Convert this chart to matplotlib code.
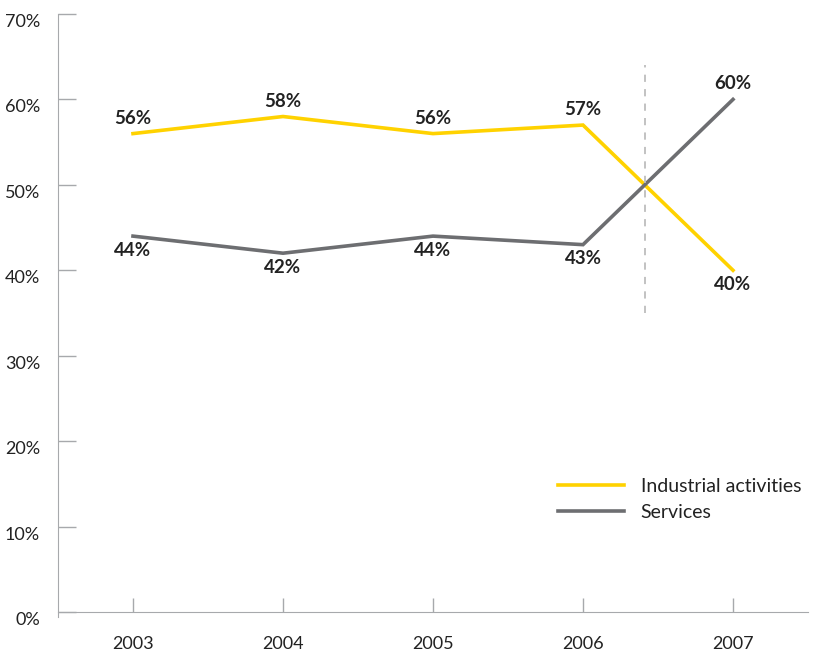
import matplotlib
matplotlib.use("Agg")
import matplotlib.pyplot as plt
from matplotlib.ticker import FuncFormatter

years = ["2003", "2004", "2005", "2006", "2007"]
industrial = [56, 58, 56, 57, 40]
services = [44, 42, 44, 43, 60]
y_ticks = [0, 10, 20, 30, 40, 50, 60, 70]
cross_span = [35, 64]

plt.rcParams['font.family'] = ['Lato', 'DejaVu Sans']

YELLOW = "#FFD200"
GREY = "#6D6E71"
AXIS = "#A7A9AC"
TEXT = "#222222"

fig = plt.figure(figsize=(8.21, 6.5), dpi=100)
ax = fig.add_axes([58/821, 38/650, 750/821, 598/650])

x = list(range(len(years)))
ax.plot(x, industrial, color=YELLOW, lw=2.6, label="Industrial activities", solid_joinstyle='miter')
ax.plot(x, services, color=GREY, lw=2.6, label="Services", solid_joinstyle='miter')

# crossing point between 2006 and 2007
i0, i1 = industrial[3], industrial[4]
s0, s1 = services[3], services[4]
t = (s0 - i0) / ((i1 - i0) - (s1 - s0))
ax.vlines(3 + t, cross_span[0], cross_span[1], colors="#BDBDBD", linestyles=(0, (4, 4)), lw=1.3)

LBL = 13.5
for xi, (a, b) in enumerate(zip(industrial, services)):
    hi, lo = (a, b) if a > b else (b, a)
    ax.annotate(f"{hi}%", (xi, hi), xytext=(0, 5), textcoords="offset points", ha="center", va="bottom",
                fontsize=LBL, fontweight="bold", color=TEXT)
    ax.annotate(f"{lo}%", (xi, lo), xytext=(0, -4), textcoords="offset points", ha="center", va="top",
                fontsize=LBL, fontweight="bold", color=TEXT)

ax.set_xlim(-0.5, 4.5)
ax.set_ylim(0, 70)
ax.set_xticks(x)
ax.set_xticklabels(years)
ax.set_yticks(y_ticks)
ax.yaxis.set_major_formatter(FuncFormatter(lambda v, p: f"{int(v)}%"))

for s in ["top", "right"]:
    ax.spines[s].set_visible(False)
ax.spines["left"].set_color(AXIS)
ax.spines["bottom"].set_color(AXIS)
ax.spines["left"].set_bounds(-0.6, 70)

ax.tick_params(axis="y", direction="in", length=13, color=AXIS, width=1, labelsize=13,
               labelcolor=TEXT, pad=13)
ax.tick_params(axis="x", direction="in", length=10, color=AXIS, width=1, labelsize=13,
               labelcolor=TEXT, pad=17)
for lab in ax.get_yticklabels():
    lab.set_horizontalalignment("right")
    lab.set_verticalalignment("top")

leg = ax.legend(loc="upper left", bbox_to_anchor=(500/750, (612-478)/598), frameon=False,
                handlelength=3.4, handletextpad=0.85, fontsize=14, labelspacing=0.45,
                borderaxespad=0, borderpad=0)
for txt in leg.get_texts():
    txt.set_color(TEXT)

fig.savefig("out.png", dpi=100)
